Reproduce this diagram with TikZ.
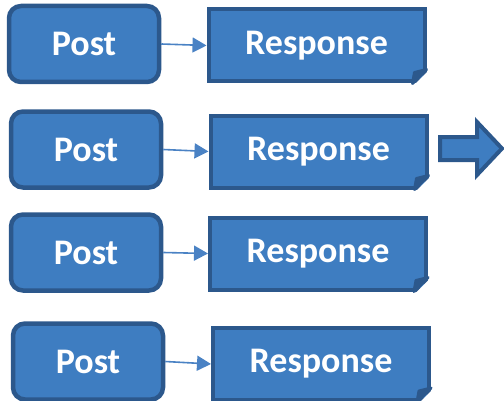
\documentclass[tikz,border=0pt]{standalone}
\usepackage{fontspec}
\setmainfont{Carlito}
\usepackage{tikz}
\usetikzlibrary{positioning, arrows.meta, calc}

\definecolor{boxblue}{RGB}{62,125,193}
\definecolor{edgeblue}{RGB}{44,88,140}
\definecolor{linkblue}{RGB}{74,130,196}

% folded corner of a response box
\newcommand{\foldcorner}[1]{%
    \fill[white] ($(#1.south east)+(-14,-3)$) -- ($(#1.south east)+(3,-3)$) -- ($(#1.south east)+(3,14)$) -- cycle;
    \filldraw[fold] ($(#1.south east)+(-14,0)$) -- ($(#1.south east)+(-12,11)$) -- ($(#1.south east)+(0,14)$) -- cycle;
}

\begin{document}
\begin{tikzpicture}[
    x=1pt, y=1pt,
    postbox/.style={rectangle, draw=edgeblue, fill=boxblue, line width=4.5pt, rounded corners=12pt,
                    minimum width=150pt, minimum height=76pt, text=white, font=\fontsize{36}{40}\selectfont\bfseries},
    respbox/.style={rectangle, draw=edgeblue, fill=boxblue, line width=4pt,
                    minimum width=216pt, minimum height=72pt, text=white, font=\fontsize{36}{40}\selectfont\bfseries},
    fold/.style={draw=edgeblue, fill=edgeblue, line width=3pt, line join=round},
    link/.style={-{Triangle[length=14pt, width=15pt]}, draw=linkblue, line width=1.6pt},
    bigarrow/.style={draw=edgeblue, fill=boxblue, line width=4pt, line join=miter}
]
    \useasboundingbox (0,0) rectangle (504,400);

    % === Row 1 ===
    \node[postbox] (post1) at (84,356) {Post};
    \node[respbox] (resp1) at (316.5,354.5) {Response};
    \foldcorner{resp1}
    \draw[link] (post1.east) -- (resp1.west);

    % === Row 2 ===
    \node[postbox] (post2) at (86,250.5) {Post};
    \node[respbox] (resp2) at (318.5,248.5) {Response};
    \foldcorner{resp2}
    \draw[link] (post2.east) -- (resp2.west);

    % === Row 3 ===
    \node[postbox] (post3) at (86,147.5) {Post};
    \node[respbox] (resp3) at (318,146.5) {Response};
    \foldcorner{resp3}
    \draw[link] (post3.east) -- (resp3.west);

    % === Row 4 ===
    \node[postbox] (post4) at (88,38.5) {Post};
    \node[respbox] (resp4) at (321,36) {Response};
    \foldcorner{resp4}
    \draw[link] (post4.east) -- (resp4.west);

    % Block arrow
    \draw[bigarrow] (440,263) -- (477,263) -- (477,278) -- (502,251.5) -- (477,225) -- (477,240) -- (440,240) -- cycle;

\end{tikzpicture}
\end{document}
